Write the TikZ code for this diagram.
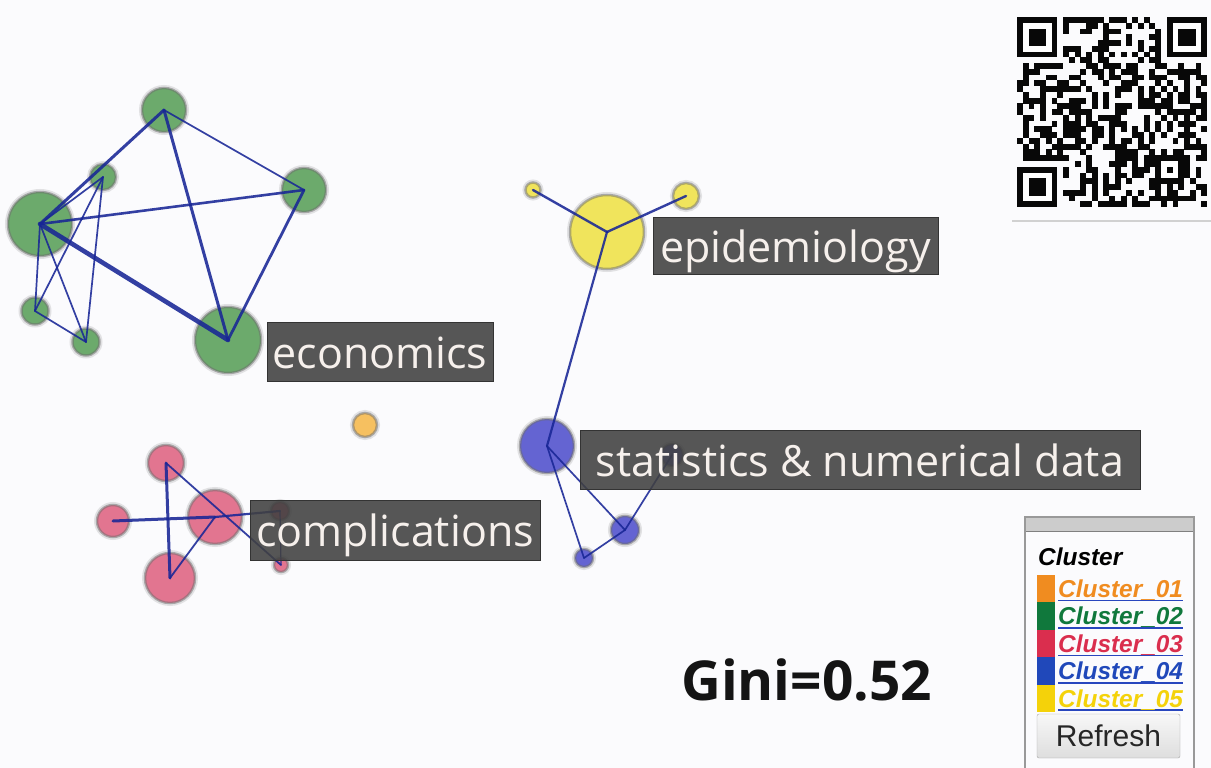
\documentclass[tikz,border=0pt]{standalone}
\usepackage{fontspec}
\newfontfamily\labfont{Open Sans}
\newfontfamily\uifont{Liberation Sans}

\definecolor{bg}{RGB}{251,251,253}
\definecolor{halo}{RGB}{110,110,110}
\definecolor{edge}{RGB}{24,38,150}
\definecolor{ngreen}{RGB}{108,170,108}
\definecolor{nred}{RGB}{226,117,144}
\definecolor{nyellow}{RGB}{240,228,92}
\definecolor{nblue}{RGB}{100,100,210}
\definecolor{norange}{RGB}{246,192,96}
\definecolor{labbg}{RGB}{64,64,64}
\definecolor{labtext}{RGB}{246,240,236}
\definecolor{qrdark}{RGB}{8,8,8}
\definecolor{ginitext}{RGB}{20,20,20}
\definecolor{clA}{RGB}{240,140,32}
\definecolor{clB}{RGB}{16,120,60}
\definecolor{clC}{RGB}{218,46,78}
\definecolor{clD}{RGB}{32,72,186}
\definecolor{clE}{RGB}{244,210,10}
\definecolor{ulblue}{RGB}{40,70,190}

\begin{document}
\begin{tikzpicture}[x=1pt,y=-1pt,
  bub/.style={circle, inner sep=0pt, fill=#1, draw=halo, draw opacity=0.5, line width=2.5pt,
    preaction={draw=halo, draw opacity=0.18, line width=6pt}},
  link/.style={draw=edge, draw opacity=0.88, line width=#1, line cap=round},
  link/.default=1.7pt,
  tag/.style={fill=labbg, fill opacity=0.88, text opacity=1, draw=black!80, line width=1pt,
    text=labtext, inner sep=0pt, font=\labfont\fontsize{43}{50}\selectfont,
    text height=40pt, text depth=7pt},
  legtxt/.style={anchor=base west, inner sep=0pt, font=\uifont\bfseries\itshape\fontsize{24.4}{28}\selectfont},
  module/.style={fill=qrdark}
]
\useasboundingbox (0,0) rectangle (1211,768);
\fill[bg] (0,0) rectangle (1211,768);

% ---------- cluster 02 (green) ----------
\node[bub=ngreen, minimum size=44pt] (g1) at (164,110) {};
\node[bub=ngreen, minimum size=26pt] (g2) at (103,177) {};
\node[bub=ngreen, minimum size=44pt] (g3) at (304,190) {};
\node[bub=ngreen, minimum size=64pt] (g4) at (40,224) {};
\node[bub=ngreen, minimum size=27pt] (g5) at (35,311) {};
\node[bub=ngreen, minimum size=27pt] (g6) at (86,342) {};
\node[bub=ngreen, minimum size=66pt] (g7) at (228,340) {};

% ---------- cluster 03 (red) ----------
\node[bub=nred, minimum size=36pt] (r1) at (166,463) {};
\node[bub=nred, minimum size=32pt] (r2) at (113,521) {};
\node[bub=nred, minimum size=54pt] (r3) at (215,517) {};
\node[bub=nred, minimum size=50pt] (r4) at (170,578) {};
\node[bub=nred, minimum size=18pt] (r5) at (280,511) {};
\node[bub=nred, minimum size=14pt] (r6) at (281,565) {};

% ---------- cluster 05 (yellow) ----------
\node[bub=nyellow, minimum size=74pt] (y1) at (607,232) {};
\node[bub=nyellow, minimum size=15pt] (y2) at (533,190) {};
\node[bub=nyellow, minimum size=26pt] (y3) at (686,196) {};

% ---------- cluster 04 (blue) ----------
\node[bub=nblue, minimum size=54pt] (b1) at (547,446) {};
\node[bub=nblue, minimum size=22pt] (b2) at (672,455) {};
\node[bub=nblue, minimum size=28pt] (b3) at (625,530) {};
\node[bub=nblue, minimum size=18pt] (b4) at (584,558) {};

% ---------- cluster 01 (orange) ----------
\node[bub=norange, minimum size=24pt] (o1) at (365,425) {};

% ---------- links ----------
\draw[link=4.6pt] (g4.center) -- (g7.center);
\draw[link=3pt] (g4.center) -- (g1.center);
\draw[link=2.6pt] (g4.center) -- (g3.center);
\draw[link=3pt] (g1.center) -- (g7.center);
\draw[link=2.8pt] (g3.center) -- (g7.center);
\draw[link] (g1.center) -- (g3.center);
\draw[link] (g4.center) -- (g2.center);
\draw[link] (g4.center) -- (g5.center);
\draw[link] (g4.center) -- (g6.center);
\draw[link] (g2.center) -- (g5.center);
\draw[link] (g2.center) -- (g6.center);
\draw[link] (g5.center) -- (g6.center);

\draw[link=3pt] (r2.center) -- (r3.center);
\draw[link=2.2pt] (r3.center) -- (r5.center);
\draw[link=3pt] (r1.center) -- (r4.center);
\draw[link=1.8pt] (r1.center) -- (r6.center);
\draw[link=1.8pt] (r4.center) -- (r3.center);
\draw[link=1.2pt] (r5.center) -- (r6.center);

\draw[link=2.4pt] (y1.center) -- (y2.center);
\draw[link=2.4pt] (y1.center) -- (y3.center);
\draw[link=2.2pt] (y1.center) -- (b1.center);

\draw[link] (b1.center) -- (b3.center);
\draw[link] (b1.center) -- (b4.center);
\draw[link] (b4.center) -- (b3.center);
\draw[link] (b3.center) -- (b2.center);

% ---------- labels ----------
\node[tag, minimum width=226pt, minimum height=59pt] (leco) at (380,351.5) {economics};
\node[tag, minimum width=285pt, minimum height=57pt] (lepi) at (795.5,245.5) {epidemiology};
\node[tag, minimum width=560pt, minimum height=59pt] (lsta) at (860,459.5) {statistics \& numerical data};
\node[tag, minimum width=290pt, minimum height=60pt] (lcom) at (395,530) {complications};

% ---------- Gini value ----------
\node[anchor=base west, inner sep=0pt, text=ginitext, font=\labfont\bfseries\fontsize{55}{60}\selectfont] (gini) at (681,700) {Gini=0.52};

% ---------- QR code ----------
\pgfmathsetseed{4242}
\foreach \r in {0,...,32}{
  \foreach \c in {0,...,32}{
    \pgfmathtruncatemacro\qrsk{(((\r<8)&&(\c<8)) || ((\r<8)&&(\c>24)) || ((\r>24)&&(\c<8)) || ((\r>23)&&(\r<29)&&(\c>23)&&(\c<29))) ? 1 : 0}
    \pgfmathtruncatemacro\qrbit{(\r==6) ? mod(\c+1,2) : ((\c==6) ? mod(\r+1,2) : (rnd<0.5 ? 1 : 0))}
    \ifnum\qrsk=0 \ifnum\qrbit=1
      \fill[module] (1017+\c*5.76,17+\r*5.76) rectangle ++(5.9,5.9);
    \fi\fi
  }
}
\foreach \fr/\fc in {0/0,0/26,26/0}{
  \fill[module] (1017+\fc*5.76,17+\fr*5.76) rectangle ++(40.32,40.32);
  \fill[white] (1017+\fc*5.76+5.76,17+\fr*5.76+5.76) rectangle ++(28.8,28.8);
  \fill[module] (1017+\fc*5.76+11.52,17+\fr*5.76+11.52) rectangle ++(17.28,17.28);
}
\fill[module] (1017+24*5.76,17+24*5.76) rectangle ++(28.8,28.8);
\fill[white] (1017+25*5.76,17+25*5.76) rectangle ++(17.28,17.28);
\fill[module] (1017+26*5.76,17+26*5.76) rectangle ++(5.76,5.76);
\draw[black!18, line width=1.5pt] (1012,221) -- (1211,221);

% ---------- legend panel ----------
\fill[black!20] (1025,517) rectangle (1194,531);
\draw[black!50, line width=1.5pt] (1025,531.5) -- (1194,531.5);
\draw[black!40, line width=1.5pt] (1025,768) -- (1025,517) -- (1194,517) -- (1194,768);
\node[legtxt] (leghead) at (1038,565) {Cluster};
\foreach \k/\cl in {0/clA,1/clB,2/clC,3/clD,4/clE}{
  \pgfmathtruncatemacro\kk{\k+1}
  \fill[\cl] (1037,575+\k*27.4) rectangle (1055,602.4+\k*27.4);
  \draw[ulblue, line width=1.6pt] (1058,600.5+\k*27.4) -- (1183,600.5+\k*27.4);
  \node[legtxt, text=\cl] (leg\k) at (1058,597.5+\k*27.4) {Cluster\_0\kk};
}
\node[draw=black!35, rounded corners=2pt, top color=black!3, bottom color=black!13,
  minimum width=143pt, minimum height=44pt, inner sep=0pt,
  font=\uifont\fontsize{30}{34}\selectfont, text=black!85] (refresh) at (1108.5,736) {Refresh};
\end{tikzpicture}
\end{document}
